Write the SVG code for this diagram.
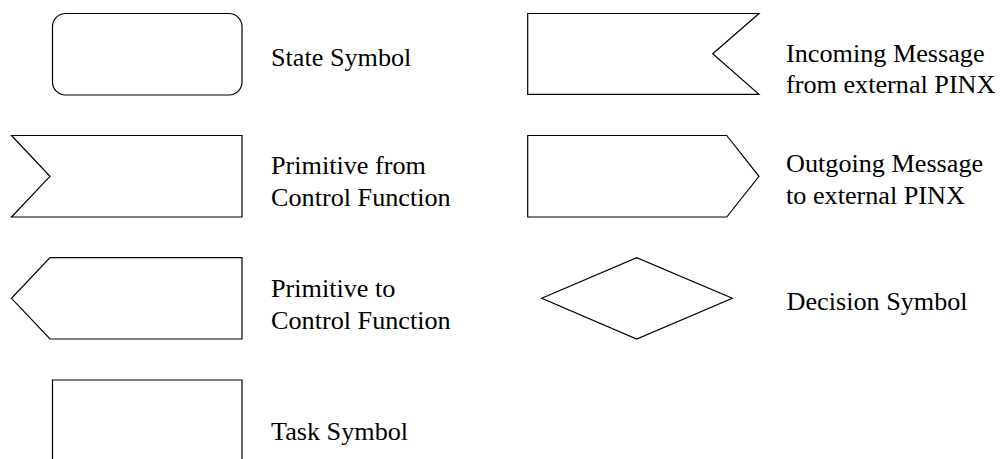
<svg xmlns="http://www.w3.org/2000/svg" width="1003" height="459" viewBox="0 0 1003 459">
<style>
.s{fill:#fff;stroke:#000;stroke-width:1.2}
text{font-family:'Liberation Serif','Times New Roman',Times,serif;font-size:26.2px;fill:#000}
</style>
<rect width="1003" height="459" fill="#fff"/>
<g id="state">
<rect class="s" x="52.5" y="13.5" width="189.5" height="81.5" rx="13" ry="13"/>
<text x="271" y="66">State Symbol</text>
</g>
<g id="prim-from">
<polygon class="s" points="11.5,135.5 242,135.5 242,217 11.5,217 50,176.3"/>
<text x="271" y="174">Primitive from</text>
<text x="271" y="205.5">Control Function</text>
</g>
<g id="prim-to">
<polygon class="s" points="50,257.7 242,257.7 242,339 50,339 11.5,298.3"/>
<text x="271" y="297">Primitive to</text>
<text x="271" y="328.5">Control Function</text>
</g>
<g id="task">
<polygon class="s" points="52.5,470 52.5,380 242,380 242,470"/>
<text x="271" y="440">Task Symbol</text>
</g>
<g id="incoming">
<polygon class="s" points="527.7,13.5 759,13.5 712.7,53.8 759,94.3 527.7,94.3"/>
<text x="786" y="61.5">Incoming Message</text>
<text x="786" y="93">from external PINX</text>
</g>
<g id="outgoing">
<polygon class="s" points="527.7,135.5 726.7,135.5 759,176.3 726.7,217 527.7,217"/>
<text x="786" y="172">Outgoing Message</text>
<text x="786" y="203.5">to external PINX</text>
</g>
<g id="decision">
<polygon class="s" points="541.7,298.3 636.7,257.7 732.3,298.3 636.7,339"/>
<text x="786.5" y="310">Decision Symbol</text>
</g>
<g id="connectors"/>
</svg>
